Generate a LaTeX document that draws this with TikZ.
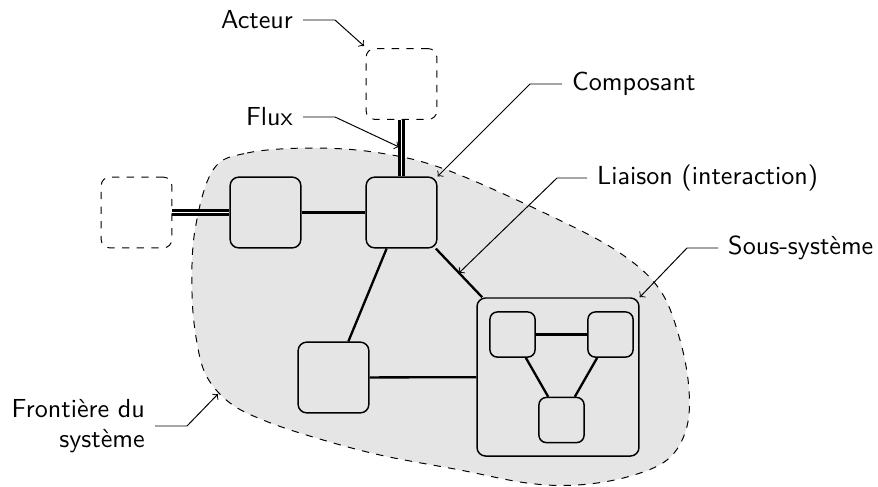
\documentclass[tikz,border=0pt]{standalone}
\usepackage{tikz}
\usetikzlibrary{arrows}
\renewcommand{\familydefault}{\sfdefault}

\begin{document}
\begin{tikzpicture}[x=0.41pt, y=-0.41pt, every node/.style={font=\fontsize{10.7}{12.4}\selectfont}]
\tikzset{comp/.style = {shape=rectangle, draw, rounded corners=3.5pt, minimum size=29pt, inner sep=0pt, semithick}}
\tikzset{smallcomp/.style = {comp, minimum size=18.5pt, rounded corners=3pt}}
\tikzset{actor/.style = {comp, dashed, thin}}
\tikzset{link/.style = {line width=0.95pt}}
\tikzset{flow/.style = {double, double distance=0.8pt, line width=0.85pt}}
\tikzset{leader/.style = {thin, ->}}
\tikzset{lbl/.style = {inner sep=4pt}}
\useasboundingbox (0,0) rectangle (878,486);
% boundary
\draw[dashed, thin, fill=gray!20] plot[smooth cycle, tension=0.6] coordinates {
  (213,170) (247,153) (313,148) (380,153) (447,170) (553,217) (620,253)
  (660,290) (680,340) (689,390) (686,430) (667,460) (627,477) (577,485)
  (527,483) (460,470) (380,455) (313,437) (263,420) (230,403) (207,377)
  (197,343) (192,293) (195,230)};
% actors
\node[actor] (actTop) at (401.5,84) {};
\node[actor] (actLeft) at (136.5,212.5) {};
% components
\node[comp] (A) at (265.5,212.5) {};
\node[comp] (B) at (401.5,212.5) {};
\node[comp] (C) at (333.5,377.5) {};
% sub-system
\node[comp, minimum width=66.4pt, minimum height=64.8pt] (sub) at (558,377) {};
\node[smallcomp] (s1) at (512.5,334.5) {};
\node[smallcomp] (s2) at (610.5,334.5) {};
\node[smallcomp] (s3) at (561.5,420) {};
%edges
\draw[flow] (actTop) to (B);
\draw[flow] (actLeft) to (A);
\draw[link] (A) to (B);
\draw[link] (B) to (C);
\draw[link] (B) -- coordinate[pos=0.5] (bsmid) (sub);
\draw[link] (C) to (sub);
\draw[link] (s1) to (s2);
\draw[link] (s1) to (s3);
\draw[link] (s2) to (s3);
% labels
\coordinate (acttip) at (364,46);
\coordinate (fluxtip) at (399,147);
\coordinate (bordtip) at (218,394);
\node[lbl, anchor=east] (acteur) at (303,20) {Acteur};
\node[lbl, anchor=east] (flux) at (303,117) {Flux};
\node[lbl, anchor=west] (composant) at (562,84) {Composant};
\node[lbl, anchor=west] (liaison) at (587,178) {Liaison (interaction)};
\node[lbl, anchor=west] (soussys) at (718,248) {Sous-syst\`eme};
\node[lbl, anchor=east, align=right] (frontiere) at (155,426) {Fronti\`ere du\\syst\`eme};
\draw[leader] (acteur.east) -- ++(32,0) -- (acttip);
\draw[leader] (flux.east) -- ++(32,0) -- (fluxtip);
\draw[leader] (composant.west) -- ++(-32,0) -- (B.north east);
\draw[leader] (liaison.west) -- ++(-30,0) -- (bsmid);
\draw[leader] (soussys.west) -- ++(-31,0) -- (sub.north east);
\draw[leader] (frontiere.east) -- ++(32,0) -- (bordtip);
\end{tikzpicture}
\end{document}
